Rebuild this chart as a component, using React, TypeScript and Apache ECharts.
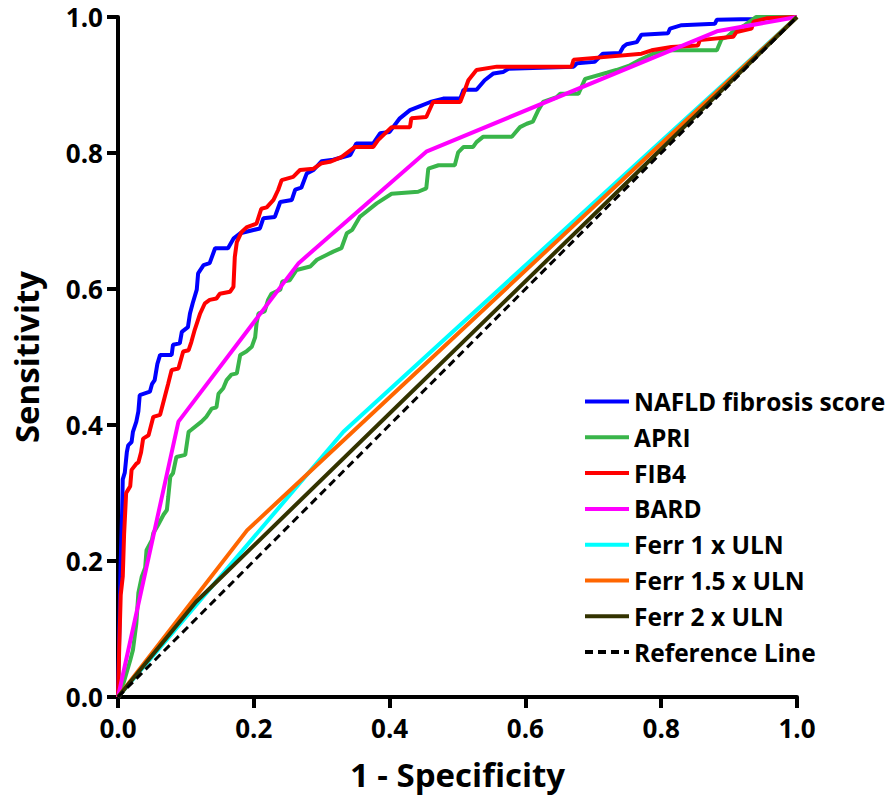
import React, { useEffect, useRef } from "react";
import * as echarts from "echarts";

const seriesNames = [
  "NAFLD fibrosis score",
  "APRI",
  "FIB4",
  "BARD",
  "Ferr 1 x ULN",
  "Ferr 1.5 x ULN",
  "Ferr 2 x ULN",
  "Reference Line",
];

const seriesColors = ["#0000FF", "#39B54A", "#FF0000", "#FF00FF", "#00FFFF", "#FF6600", "#333300", "#000000"];

const axisTicks = [0, 0.2, 0.4, 0.6, 0.8, 1.0];

const nafld: number[][] = [
  [0, 0], [0.002, 0.1], [0.004, 0.2], [0.006, 0.27], [0.007, 0.32], [0.01, 0.33], [0.013, 0.36], [0.015, 0.37],
  [0.02, 0.375], [0.022, 0.39], [0.027, 0.405], [0.03, 0.42], [0.032, 0.444], [0.047, 0.449], [0.05, 0.46],
  [0.054, 0.466], [0.058, 0.49], [0.062, 0.503], [0.079, 0.503], [0.081, 0.518], [0.091, 0.52], [0.094, 0.537],
  [0.103, 0.544], [0.106, 0.564], [0.11, 0.579], [0.116, 0.599], [0.118, 0.623], [0.126, 0.635], [0.135, 0.638],
  [0.143, 0.66], [0.162, 0.66], [0.17, 0.674], [0.18, 0.682], [0.209, 0.689], [0.214, 0.704], [0.231, 0.706],
  [0.239, 0.728], [0.256, 0.731], [0.261, 0.746], [0.27, 0.749], [0.278, 0.77], [0.288, 0.775], [0.3, 0.788],
  [0.317, 0.79], [0.342, 0.797], [0.351, 0.814], [0.376, 0.814], [0.386, 0.829], [0.4, 0.831], [0.415, 0.851],
  [0.43, 0.863], [0.445, 0.869], [0.46, 0.875], [0.479, 0.88], [0.504, 0.88], [0.509, 0.893], [0.528, 0.893],
  [0.54, 0.907], [0.553, 0.917], [0.567, 0.919], [0.575, 0.924], [0.671, 0.927], [0.676, 0.932], [0.702, 0.934],
  [0.714, 0.946], [0.739, 0.947], [0.744, 0.956], [0.749, 0.96], [0.764, 0.963], [0.771, 0.974], [0.81, 0.976],
  [0.813, 0.983], [0.83, 0.988], [0.879, 0.99], [0.882, 0.996], [0.935, 0.997], [1, 1],
];

const apri: number[][] = [
  [0, 0], [0.008, 0.02], [0.018, 0.054], [0.022, 0.069], [0.027, 0.108], [0.03, 0.153], [0.035, 0.177],
  [0.04, 0.19], [0.042, 0.216], [0.05, 0.231], [0.052, 0.241], [0.059, 0.253], [0.067, 0.268], [0.072, 0.275],
  [0.074, 0.294], [0.077, 0.324], [0.081, 0.329], [0.086, 0.353], [0.099, 0.356], [0.104, 0.39], [0.108, 0.393],
  [0.123, 0.405], [0.13, 0.412], [0.138, 0.424], [0.145, 0.426], [0.148, 0.446], [0.155, 0.454], [0.16, 0.466],
  [0.167, 0.474], [0.175, 0.476], [0.18, 0.503], [0.189, 0.508], [0.197, 0.515], [0.202, 0.529], [0.204, 0.549],
  [0.207, 0.564], [0.216, 0.567], [0.221, 0.584], [0.226, 0.593], [0.239, 0.599], [0.242, 0.611], [0.253, 0.613],
  [0.263, 0.628], [0.283, 0.633], [0.293, 0.643], [0.307, 0.65], [0.317, 0.655], [0.329, 0.66], [0.337, 0.682],
  [0.345, 0.687], [0.356, 0.706], [0.361, 0.71], [0.381, 0.726], [0.403, 0.74], [0.442, 0.743], [0.454, 0.748],
  [0.457, 0.777], [0.472, 0.782], [0.496, 0.782], [0.501, 0.801], [0.509, 0.809], [0.523, 0.809], [0.528, 0.816],
  [0.538, 0.824], [0.58, 0.824], [0.592, 0.838], [0.602, 0.843], [0.611, 0.846], [0.619, 0.863], [0.626, 0.875],
  [0.646, 0.882], [0.651, 0.887], [0.678, 0.887], [0.688, 0.909], [0.72, 0.918], [0.734, 0.922], [0.754, 0.929],
  [0.769, 0.937], [0.788, 0.946], [0.813, 0.951], [0.882, 0.951], [0.889, 0.968], [0.896, 0.97], [0.905, 0.978],
  [0.923, 0.988], [0.94, 1.0], [1, 1],
];

const fib4: number[][] = [
  [0, 0], [0.002, 0.08], [0.004, 0.15], [0.007, 0.177], [0.009, 0.24], [0.012, 0.3], [0.015, 0.305],
  [0.018, 0.31], [0.02, 0.334], [0.027, 0.343], [0.03, 0.345], [0.034, 0.36], [0.037, 0.38], [0.045, 0.385],
  [0.052, 0.412], [0.062, 0.415], [0.069, 0.442], [0.074, 0.461], [0.079, 0.481], [0.089, 0.483], [0.096, 0.508],
  [0.104, 0.51], [0.108, 0.522], [0.113, 0.54], [0.121, 0.564], [0.128, 0.579], [0.135, 0.584], [0.145, 0.586],
  [0.15, 0.593], [0.165, 0.596], [0.17, 0.603], [0.172, 0.647], [0.175, 0.669], [0.182, 0.684], [0.19, 0.691],
  [0.204, 0.696], [0.211, 0.718], [0.219, 0.72], [0.229, 0.731], [0.236, 0.746], [0.241, 0.76], [0.258, 0.765],
  [0.268, 0.775], [0.288, 0.777], [0.3, 0.785], [0.312, 0.787], [0.329, 0.794], [0.349, 0.809], [0.376, 0.809],
  [0.383, 0.819], [0.403, 0.838], [0.43, 0.838], [0.432, 0.851], [0.454, 0.853], [0.464, 0.875], [0.504, 0.875],
  [0.511, 0.893], [0.516, 0.907], [0.528, 0.922], [0.558, 0.927], [0.668, 0.927], [0.671, 0.937], [0.715, 0.941],
  [0.771, 0.946], [0.786, 0.951], [0.815, 0.956], [0.854, 0.958], [0.857, 0.966], [0.906, 0.971], [0.911, 0.978],
  [0.933, 0.983], [0.936, 0.993], [0.955, 0.998], [1, 1],
];

const bard: number[][] = [[0, 0], [0.089, 0.405], [0.266, 0.638], [0.454, 0.802], [0.882, 0.979], [1, 1]];
const ferr1: number[][] = [[0, 0], [0.332, 0.39], [1, 1]];
const ferr15: number[][] = [[0, 0], [0.19, 0.245], [1, 1]];
const ferr2: number[][] = [[0, 0], [0.115, 0.14], [1, 1]];
const reference: number[][] = [[0, 0], [1, 1]];

const seriesData = [nafld, apri, fib4, bard, ferr1, ferr15, ferr2, reference];

const FONT = "Open Sans";

export default function App() {
  const ref = useRef<HTMLDivElement>(null);
  useEffect(() => {
    if (!ref.current) return;
    const chart = echarts.init(ref.current, undefined, { renderer: "svg" });
    const axisCommon = {
      type: "value" as const,
      min: axisTicks[0],
      max: axisTicks[axisTicks.length - 1],
      interval: 0.2,
      axisLine: { show: true, lineStyle: { color: "#000", width: 4 } },
      axisTick: { show: true, length: 11, lineStyle: { color: "#000", width: 4 } },
      splitLine: { show: false },
      nameLocation: "middle" as const,
      nameTextStyle: { fontFamily: FONT, fontWeight: "bold" as const, fontSize: 33, color: "#000" },
    };
    const labelStyle = {
      fontFamily: FONT, fontWeight: "bold" as const, fontSize: 26, color: "#000",
      formatter: (v: number) => v.toFixed(1),
    };
    chart.setOption({
      animation: false,
      backgroundColor: "#fff",
      grid: { left: 118, top: 17, width: 679, height: 680, containLabel: false },
      xAxis: {
        ...axisCommon,
        name: "1 - Specificity",
        nameGap: 61,
        axisLabel: { ...labelStyle, margin: 18 },
      },
      yAxis: {
        ...axisCommon,
        name: "Sensitivity",
        nameGap: 75,
        axisLabel: { ...labelStyle, margin: 15 },
      },
      legend: {
        orient: "vertical",
        left: 583,
        top: 389,
        padding: 0,
        itemWidth: 44,
        itemHeight: 14,
        itemGap: 10.8,
        data: seriesNames,
        lineStyle: { width: 4 },
        itemStyle: { opacity: 0, borderWidth: 0, color: "rgba(0,0,0,0)", borderColor: "rgba(0,0,0,0)" },
        textStyle: { fontFamily: FONT, fontWeight: "bold", fontSize: 24.5, color: "#000" },
      },
      series: seriesNames.map((name, i) => ({
        name,
        type: "line",
        data: seriesData[i],
        symbol: "none",
        color: seriesColors[i],
        lineStyle: {
          color: seriesColors[i],
          width: i === 7 ? 3 : 4,
          type: i === 7 ? [8, 5] : "solid",
        },
        z: 2 + i,
      })),
    });
    return () => chart.dispose();
  }, []);
  return (
    <div
      ref={ref}
      style={{ position: "absolute", left: 0, top: 0, width: 891, height: 805 }}
    />
  );
}
